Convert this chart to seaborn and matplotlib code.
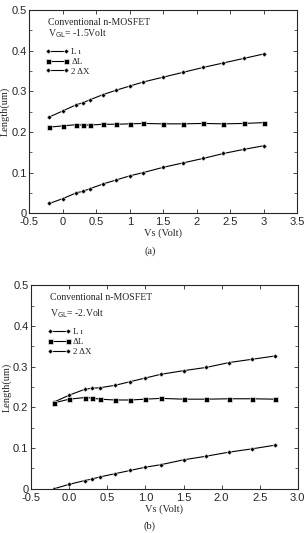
import matplotlib
matplotlib.use('Agg')
import matplotlib.pyplot as plt
from matplotlib.ticker import MultipleLocator, FormatStrFormatter
import numpy as np
import pandas as pd
import seaborn as sns

# (a) V_GL = -1.5 Volt
vs_a = [-0.2, 0.0, 0.2, 0.3, 0.4, 0.6, 0.8, 1.0, 1.2, 1.5, 1.8, 2.1, 2.4, 2.7, 3.0]
li_a = [0.237, 0.252, 0.267, 0.272, 0.279, 0.292, 0.303, 0.313, 0.323, 0.335, 0.347, 0.359, 0.370, 0.381, 0.392]
dl_a = [0.212, 0.215, 0.218, 0.217, 0.217, 0.219, 0.219, 0.220, 0.221, 0.220, 0.220, 0.221, 0.220, 0.221, 0.223]
dx_a = [0.024, 0.036, 0.050, 0.054, 0.060, 0.072, 0.082, 0.092, 0.100, 0.113, 0.124, 0.135, 0.147, 0.157, 0.166]

# (b) V_GL = -2 Volt
vs_b = [-0.2, 0.0, 0.2, 0.3, 0.4, 0.6, 0.8, 1.0, 1.2, 1.5, 1.8, 2.1, 2.4, 2.7]
li_b = [0.213, 0.230, 0.244, 0.247, 0.248, 0.254, 0.263, 0.272, 0.281, 0.290, 0.298, 0.310, 0.318, 0.326]
dl_b = [0.211, 0.220, 0.224, 0.223, 0.220, 0.218, 0.218, 0.220, 0.222, 0.220, 0.220, 0.221, 0.221, 0.220]
dx_b = [0.000, 0.011, 0.020, 0.024, 0.029, 0.037, 0.045, 0.053, 0.059, 0.071, 0.080, 0.090, 0.098, 0.107]

labels = ['L ı', '\u0394L', '2 \u0394X']
markers = ['D', 's', 'D']
msizes = [2.6, 3.6, 2.6]

sns.set_style('ticks')
plt.rcParams['font.family'] = ['Liberation Sans', 'DejaVu Sans']
serif = ['Liberation Serif', 'DejaVu Serif']

fig = plt.figure(figsize=(3.06, 5.33), dpi=100)
ax_a = fig.add_axes([0.096, 0.600, 0.875, 0.381])
ax_b = fig.add_axes([0.102, 0.083, 0.871, 0.382])


def draw_panel(ax, vs, series, vgl, xlim, xfmt, text_y, leg_y):
    df = pd.DataFrame({'Vs': vs})
    for name, vals in zip(labels, series):
        df[name] = vals
    for name, mk, ms in zip(labels, markers, msizes):
        sns.lineplot(data=df, x='Vs', y=name, ax=ax, color='black', lw=0.8,
                     marker=mk, markersize=ms, markeredgewidth=0.4, label=name)
    ax.set_xlim(*xlim)
    ax.set_ylim(0, 0.5)
    ax.xaxis.set_major_locator(MultipleLocator(0.5))
    ax.xaxis.set_major_formatter(xfmt)
    ax.yaxis.set_major_locator(MultipleLocator(0.1))
    ax.yaxis.set_major_formatter(FormatStrFormatter('%g'))
    ax.yaxis.set_minor_locator(MultipleLocator(0.05))
    ax.tick_params(direction='in', top=True, right=True, length=3, width=0.6,
                   labelsize=8, pad=2)
    ax.tick_params(axis='x', pad=3)
    ax.tick_params(which='minor', direction='in', right=True, length=2, width=0.5)
    for sp in ax.spines.values():
        sp.set_linewidth(0.8)
    ax.set_xlabel('Vs (Volt)', family=serif, fontsize=7.5, labelpad=1)
    ax.set_ylabel('Length(um)', family=serif, fontsize=7.5, labelpad=1)
    ax.text(0.07, text_y[0], 'Conventional n-MOSFET', transform=ax.transAxes,
            family=serif, fontsize=7, va='center')
    ax.text(0.07, text_y[1], r'V$_{\rm GL}$= ' + vgl, transform=ax.transAxes,
            family=serif, fontsize=7, va='center')
    ax.legend(loc='upper left', bbox_to_anchor=(0.035, leg_y), frameon=False,
              prop={'family': serif, 'size': 6.5}, handlelength=2.6, numpoints=2,
              handletextpad=0.3, labelspacing=0.15, borderpad=0.2)


draw_panel(ax_a, vs_a, [li_a, dl_a, dx_a], '-1.5Volt', (-0.5, 3.5),
           FormatStrFormatter('%g'), (0.94, 0.885), 0.845)
draw_panel(ax_b, vs_b, [li_b, dl_b, dx_b], '-2.Volt', (-0.5, 3.0),
           FormatStrFormatter('%.1f'), (0.94, 0.86), 0.82)

fig.text(0.49, 1 - 251 / 533, '(a)', family=serif, fontsize=7.5, ha='center', va='center')
fig.text(0.49, 1 - 526 / 533, '(b)', family=serif, fontsize=7.5, ha='center', va='center')

fig.savefig('out.png', dpi=100)
